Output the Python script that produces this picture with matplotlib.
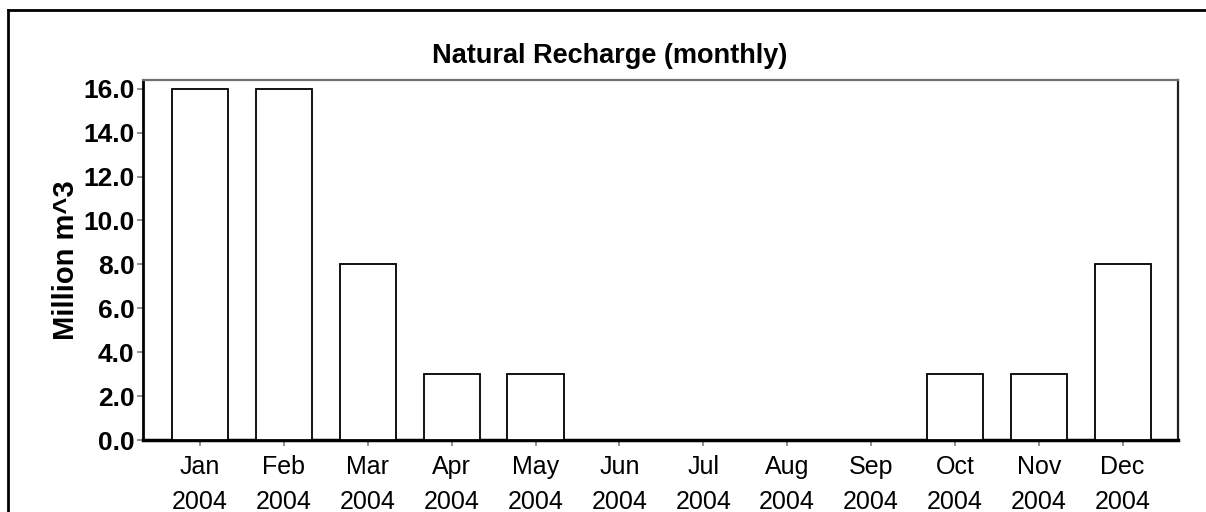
import matplotlib
matplotlib.use("Agg")
import matplotlib.pyplot as plt
from matplotlib import font_manager
from matplotlib.lines import Line2D

months = ["Jan", "Feb", "Mar", "Apr", "May", "Jun", "Jul", "Aug", "Sep", "Oct", "Nov", "Dec"]
year = "2004"
recharge = [16.0, 16.0, 8.0, 3.0, 3.0, 0.0, 0.0, 0.0, 0.0, 3.0, 3.0, 8.0]
yticks = [0.0, 2.0, 4.0, 6.0, 8.0, 10.0, 12.0, 14.0, 16.0]

names = {f.name for f in font_manager.fontManager.ttflist}
narrow = "Liberation Sans Narrow" if "Liberation Sans Narrow" in names else "Liberation Sans"
wide = "Liberation Sans"

W, H = 1206, 512
fig = plt.figure(figsize=(W / 100, H / 100), dpi=100)
fig.patch.set_facecolor("white")

L, R, B, T = 143, 1178, 440, 80
ax = fig.add_axes([L / W, (H - B) / H, (R - L) / W, (B - T) / H])

x = list(range(len(months)))
ax.bar(x, recharge, width=0.67, color="white", edgecolor="black", linewidth=1.3, zorder=3)
ax.set_xlim(-0.68, 11.66)
ax.set_ylim(0, 16.4)

ax.set_yticks(yticks)
ax.set_yticklabels([f"{v:.1f}" for v in yticks], fontfamily=narrow, fontweight="bold", fontsize=19)
ax.set_xticks(x)
ax.set_xticklabels([f"{m}\n{year}" for m in months], fontfamily=narrow, fontsize=18, linespacing=1.55)

ax.tick_params(axis="both", direction="out", color="#808080", width=1.2, length=4)
ax.tick_params(axis="y", pad=2)
ax.tick_params(axis="x", pad=7)

ax.spines["left"].set_color("black")
ax.spines["left"].set_linewidth(2)
ax.spines["bottom"].set_color("black")
ax.spines["bottom"].set_linewidth(2.5)
ax.spines["top"].set_color("#707070")
ax.spines["top"].set_linewidth(1.6)
ax.spines["right"].set_color("#202020")
ax.spines["right"].set_linewidth(1.6)

ax.set_ylabel("Million m^3", fontfamily=wide, fontweight="bold", fontsize=21)
ax.yaxis.set_label_coords(-(L - 66) / (R - L), (B - 260) / (B - T), transform=ax.transAxes)
ax.yaxis.label.set_verticalalignment("center")

fig.text(610 / W, (H - 63) / H, "Natural Recharge (monthly)", ha="center", va="baseline",
         fontfamily=wide, fontweight="bold", fontsize=19.5)

# outer border (top and left)
fig.add_artist(Line2D([8 / W, 1205 / W], [(H - 10) / H, (H - 10) / H], transform=fig.transFigure,
                      color="black", linewidth=2))
fig.add_artist(Line2D([8 / W, 8 / W], [(H - 10) / H, 0], transform=fig.transFigure,
                      color="black", linewidth=2))

fig.savefig("out.png", dpi=100)
